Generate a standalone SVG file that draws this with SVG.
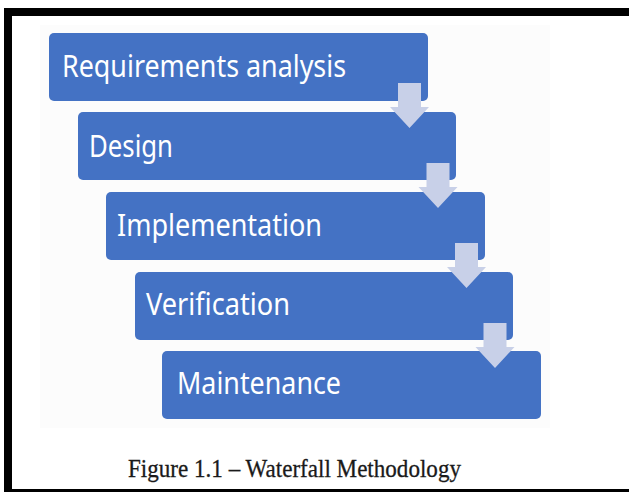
<svg xmlns="http://www.w3.org/2000/svg" width="629" height="492" viewBox="0 0 629 492">
<style>
.box{fill:#4472c4}
.lbl{font-family:"Noto Sans","Open Sans",sans-serif;font-size:30px;fill:#ffffff}
.arr{fill:#c8d0e8}
.cap{font-family:"Liberation Serif",serif;font-size:25px;fill:#1a1a1a;stroke:#1a1a1a;stroke-width:0.3}
</style>
<defs>
<path id="arrow" d="M0,0 h23 v24 h8 l-19.5,21 l-19.5,-21 h8 z"/>
</defs>
<rect x="0" y="0" width="629" height="492" fill="#ffffff"/>
<rect x="40" y="25" width="510" height="403" fill="#fcfcfc"/>
<g id="frame" fill="#000000">
<rect x="4" y="8" width="625" height="8"/>
<rect x="4" y="8" width="8" height="484"/>
<rect x="4" y="489" width="625" height="3"/>
</g>
<g id="n1"><rect class="box" x="49" y="33" width="379" height="68" rx="5"/><text class="lbl" x="62" y="77" textLength="284" lengthAdjust="spacingAndGlyphs">Requirements analysis</text></g>
<g id="n2"><rect class="box" x="78" y="112" width="378" height="68" rx="5"/><text class="lbl" x="89" y="157" textLength="84" lengthAdjust="spacingAndGlyphs">Design</text></g>
<g id="n3"><rect class="box" x="106" y="192" width="379" height="68" rx="5"/><text class="lbl" x="117" y="236" textLength="205" lengthAdjust="spacingAndGlyphs">Implementation</text></g>
<g id="n4"><rect class="box" x="135" y="272" width="378" height="68" rx="5"/><text class="lbl" x="146" y="315" textLength="144" lengthAdjust="spacingAndGlyphs">Verification</text></g>
<g id="n5"><rect class="box" x="162" y="351" width="379" height="68" rx="5"/><text class="lbl" x="177" y="394" textLength="164" lengthAdjust="spacingAndGlyphs">Maintenance</text></g>
<g id="connectors">
<use href="#arrow" class="arr" x="398" y="83"/>
<use href="#arrow" class="arr" x="426.5" y="163"/>
<use href="#arrow" class="arr" x="455" y="243"/>
<use href="#arrow" class="arr" x="483.5" y="323"/>
</g>
<text class="cap" x="128" y="477" textLength="333" lengthAdjust="spacingAndGlyphs">Figure 1.1 – Waterfall Methodology</text>
</svg>
